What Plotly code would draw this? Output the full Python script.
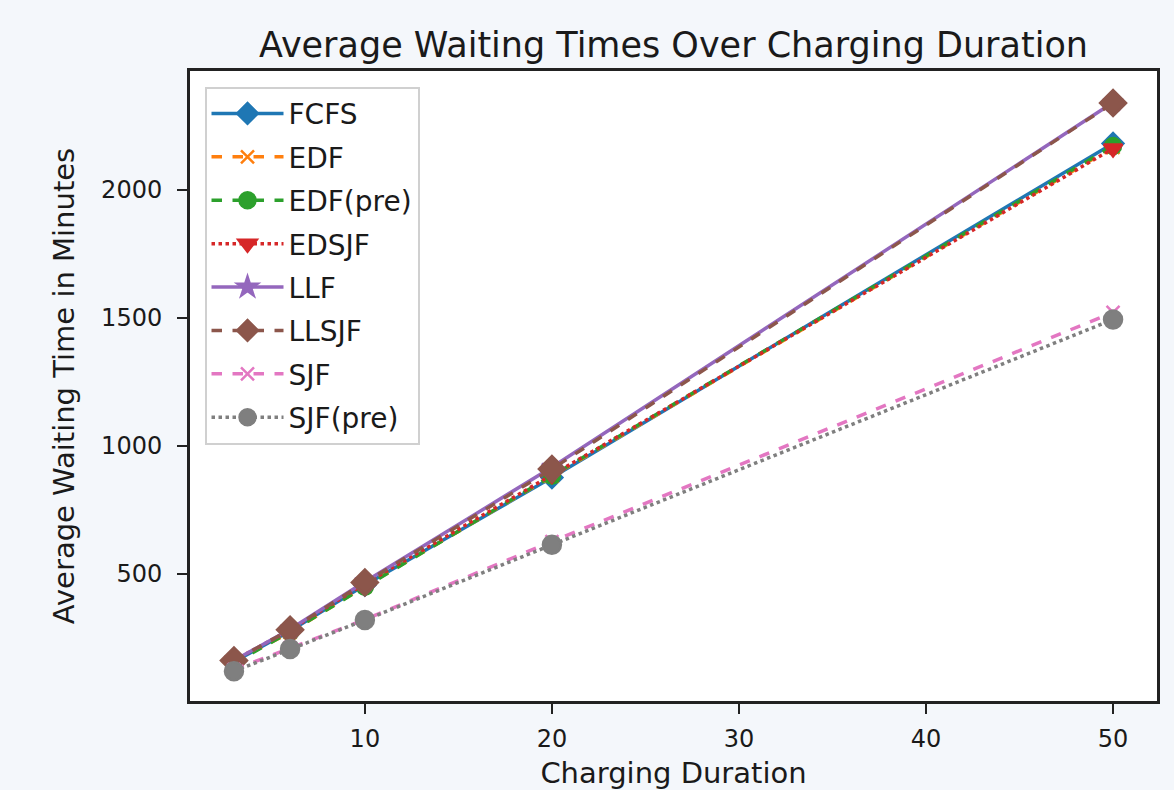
import plotly.graph_objects as go

durations = [3, 6, 10, 20, 50]
fcfs = [155, 275, 455, 875, 2180]
edf = [155, 270, 450, 880, 2165]
edf_pre = [150, 272, 448, 882, 2170]
edsjf = [160, 280, 460, 885, 2160]
llf = [160, 282, 468, 915, 2340]
llsjf = [160, 280, 465, 908, 2338]
sjf = [125, 210, 320, 625, 1520]
sjf_pre = [118, 205, 318, 612, 1492]

series = [
    ("FCFS", fcfs, "#1f77b4", "solid", "diamond", 16),
    ("EDF", edf, "#ff7f0e", "dash", "x-thin-open", 13),
    ("EDF(pre)", edf_pre, "#2ca02c", "dash", "circle", 16),
    ("EDSJF", edsjf, "#d62728", "dot", "triangle-down", 16),
    ("LLF", llf, "#9467bd", "solid", "star", 15),
    ("LLSJF", llsjf, "#8c564b", "dash", "diamond", 20),
    ("SJF", sjf, "#e377c2", "dash", "x-thin-open", 13),
    ("SJF(pre)", sjf_pre, "#7f7f7f", "dot", "circle", 18),
]

fig = go.Figure()
for name, vals, color, dash, sym, size in series:
    fig.add_trace(go.Scatter(
        x=durations, y=vals, name=name, mode="lines+markers",
        legendgroup=name,
        line=dict(color=color, dash=dash, width=3.5),
        marker=dict(symbol=sym, size=size, color=color,
                    line=dict(color=color, width=2.5)),
    ))

font_family = "DejaVu Sans, sans-serif"
BG = "#f4f7fb"
fig.update_layout(
    width=1174, height=790,
    paper_bgcolor=BG, plot_bgcolor="#ffffff",
    margin=dict(l=190, r=17, t=71, b=89),
    font=dict(family=font_family, size=24, color="#1a1a1a"),
    title=dict(text="Average Waiting Times Over Charging Duration",
               x=(190 + 1157) / 2 / 1174, xanchor="center",
               y=1 - 45 / 790, yanchor="middle",
               font=dict(size=35)),
    showlegend=True,
    legend=dict(x=0.015, y=0.975, xanchor="left", yanchor="top",
                bgcolor="rgba(255,255,255,0.9)", bordercolor="#d0d0d0",
                borderwidth=2, font=dict(size=28),
                tracegroupgap=4, traceorder="grouped",
                itemwidth=72, entrywidth=165),
)
fig.update_xaxes(
    range=[0.65, 52.35], tickvals=[10, 20, 30, 40, 50],
    showgrid=False, zeroline=False, automargin=False,
    showline=True, linecolor="#222", linewidth=3, mirror=True,
    ticks="outside", ticklen=10, tickwidth=2, tickcolor="#222",
    tickfont=dict(size=24), ticklabelstandoff=4,
    title=dict(text="Charging Duration", font=dict(size=29), standoff=18),
)
fig.update_yaxes(
    range=[2, 2463], tickvals=[500, 1000, 1500, 2000],
    showgrid=False, zeroline=False, automargin=False,
    showline=True, linecolor="#222", linewidth=3, mirror=True,
    ticks="outside", ticklen=10, tickwidth=2, tickcolor="#222",
    tickfont=dict(size=24), ticklabelstandoff=10,
    title=dict(text="Average Waiting Time in Minutes", font=dict(size=29), standoff=18),
)

fig.write_html(
    "out.html",
    config={"displayModeBar": False},
    post_script="document.body.style.margin='0';document.body.style.background='%s';" % BG,
)
